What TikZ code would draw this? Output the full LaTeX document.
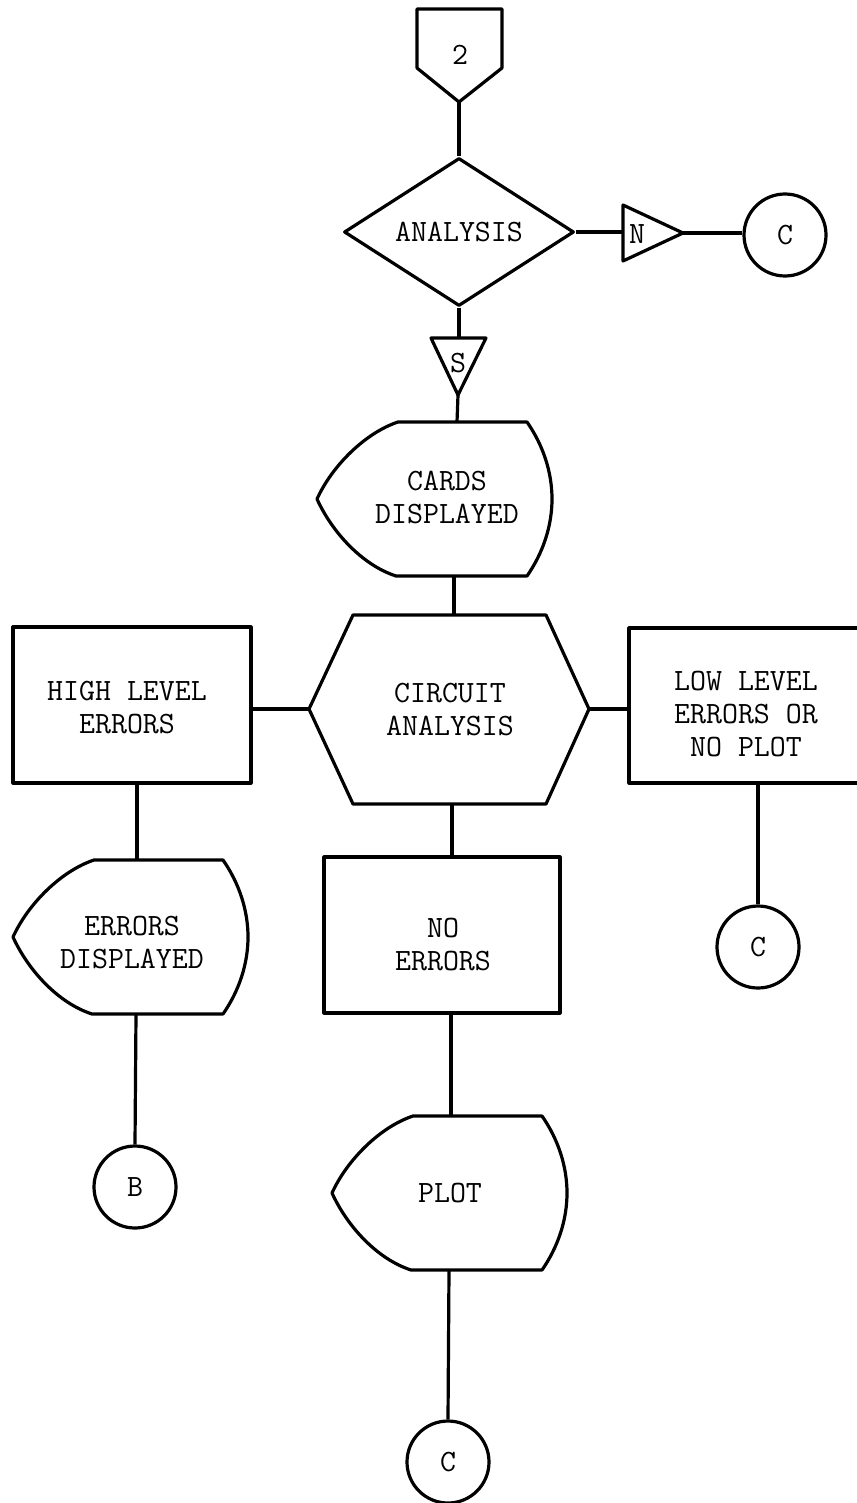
\documentclass[tikz,border=0pt]{standalone}
\usepackage{fontspec}
\usetikzlibrary{shapes.geometric}
\tikzset{
  dispshape/.pic={
    \draw (0,0) .. controls (15,-33) and (48,-66) .. (81,-77) -- (210,-77)
      .. controls (226,-54) and (235,-27) .. (235,0)
      .. controls (235,27) and (226,54) .. (210,77) -- (79,77)
      .. controls (45,66) and (15,33) .. (0,0) -- cycle;
  }
}
\begin{document}
\begin{tikzpicture}[x=1pt,y=-1pt, line width=3.2pt, line join=round,
  every node/.style={font=\fontsize{31}{33}\selectfont\ttfamily, align=center, inner sep=0pt},
  rectbox/.style={draw, rectangle},
  conn/.style={circle, draw, minimum size=82pt},
  decision/.style={diamond, draw, minimum width=230pt, minimum height=148pt}]
\useasboundingbox (0,0) rectangle (856,1503);

% off-page connector 2
\draw (417,9) -- (502,9) -- (502,68) -- (459,102) -- (417,68) -- cycle;
\coordinate (off-s) at (459,102);
\node (t2) at (460,55) {2};

% decision
\node[decision] (ana) at (459,232) {ANALYSIS};
\draw (off-s) -- (ana.north);

% N flag
\draw (623,205) -- (683,233) -- (623,261) -- cycle;
\coordinate (n-w) at (623,232);
\coordinate (n-e) at (683,233);
\node (tN) at (637,234) {N};
\draw (ana.east) -- (n-w);
\node[conn] (c1) at (785,235) {C};
\draw (n-e) -- (n-e -| c1.west);

% S flag
\draw (431,338) -- (486,338) -- (458,395) -- cycle;
\coordinate (s-n) at (459,338);
\coordinate (s-s) at (458,395);
\node (tS) at (458,363) {S};
\draw (ana.south) -- (s-n);

% cards displayed
\pic at (317,499) {dispshape};
\coordinate (cards-n) at (457,422);
\coordinate (cards-s) at (454,576);
\node (tcards) at (447,497) {CARDS\\DISPLAYED};
\draw (s-s) -- (cards-n);

% circuit analysis hexagon
\draw (353,615) -- (546,615) -- (589,709) -- (546,804) -- (353,804) -- (309,709) -- cycle;
\coordinate (hex-n) at (454,615);
\coordinate (hex-s) at (452,804);
\coordinate (hex-w) at (309,709);
\coordinate (hex-e) at (589,709);
\node (thex) at (450,710) {CIRCUIT\\ANALYSIS};
\draw (cards-s) -- (hex-n);

% high level errors
\node[rectbox, minimum width=238pt, minimum height=156pt] (hle) at (132,705) {};
\node (thle) at (127,708) {HIGH LEVEL\\ERRORS};
\draw (hex-w) -- (hex-w -| hle.east);

% low level errors
\node[rectbox, minimum width=234pt, minimum height=155pt] (lle) at (746,705.5) {};
\node (tlle) at (746,714) {LOW LEVEL\\ERRORS OR\\NO PLOT};
\draw (hex-e) -- (hex-e -| lle.west);

% errors displayed
\pic at (13,937) {dispshape};
\coordinate (ed-n) at (137,860);
\coordinate (ed-s) at (136,1014);
\node (ted) at (132,943) {ERRORS\\DISPLAYED};
\draw (hle.south -| ed-n) -- (ed-n);
\node[conn] (cb) at (135,1187) {B};
\draw (ed-s) -- (cb.north);

% no errors
\node[rectbox, minimum width=236pt, minimum height=156pt] (ne) at (442,935) {};
\node (tne) at (443,945) {NO\\ERRORS};
\draw (hex-s) -- (hex-s |- ne.north);

% plot
\pic at (332,1193) {dispshape};
\coordinate (plot-n) at (451,1116);
\coordinate (plot-s) at (449,1270);
\node (tplot) at (450,1193) {PLOT};
\draw (ne.south -| plot-n) -- (plot-n);
\node[conn] (c3) at (448,1462) {C};
\draw (plot-s) -- (c3.north);

% right connector C
\node[conn] (c2) at (758,947) {C};
\draw (c2.north |- lle.south) -- (c2.north);
\end{tikzpicture}
\end{document}
